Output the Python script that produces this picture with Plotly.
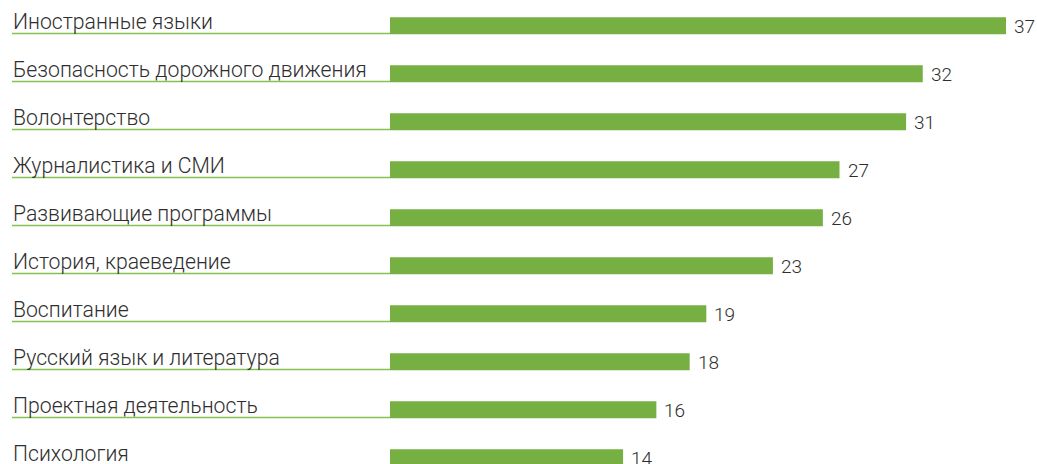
import plotly.graph_objects as go

categories = [
    "Иностранные языки",
    "Безопасность дорожного движения",
    "Волонтерство",
    "Журналистика и СМИ",
    "Развивающие программы",
    "История, краеведение",
    "Воспитание",
    "Русский язык и литература",
    "Проектная деятельность",
    "Психология",
]
values = [37, 32, 31, 27, 26, 23, 19, 18, 16, 14]

W, H = 1037, 464
PX_PER_UNIT = 616 / 37
BAR_LEFT = 390
ROW_TOP = 25.7
ROW_STEP = 48
BAR_H = 17
LABEL_LEFT = 12
LINE_OFFSET_PX = 7.8  # underline below bar centre

BAR_COLOR = "#76b043"
LINE_COLOR = "#86c150"
TEXT_COLOR = "#2e2e2e"
FONT = "Roboto"

x_min = -BAR_LEFT / PX_PER_UNIT
x_max = (W - BAR_LEFT) / PX_PER_UNIT
y_top = -ROW_TOP / ROW_STEP
y_bot = (H - ROW_TOP) / ROW_STEP
idx = list(range(len(categories)))

fig = go.Figure()
fig.add_trace(go.Bar(
    x=values, y=idx, orientation="h",
    marker=dict(color=BAR_COLOR, line=dict(width=0)),
    width=BAR_H / ROW_STEP,
    hoverinfo="skip",
))

label_x = (LABEL_LEFT - BAR_LEFT) / PX_PER_UNIT
line_dy = LINE_OFFSET_PX / ROW_STEP
for i, (c, v) in enumerate(zip(categories, values)):
    fig.add_shape(type="line", xref="x", yref="y",
                  x0=label_x, x1=0, y0=i + line_dy, y1=i + line_dy,
                  line=dict(color=LINE_COLOR, width=1.5), layer="below")
    fig.add_annotation(x=label_x, y=i, xref="x", yref="y", text=c,
                       showarrow=False, xanchor="left", yanchor="middle",
                       yshift=4.5, xshift=-1,
                       font=dict(family=FONT, size=21.2, weight=300, color=TEXT_COLOR))
    fig.add_annotation(x=v, y=i, xref="x", yref="y", text=str(v),
                       showarrow=False, xanchor="left", yanchor="middle",
                       xshift=6, yshift=-1,
                       font=dict(family=FONT, size=19, weight=300, color=TEXT_COLOR))

fig.update_layout(
    width=W, height=H,
    margin=dict(l=0, r=0, t=0, b=0),
    paper_bgcolor="white", plot_bgcolor="white",
    showlegend=False,
    hovermode=False,
    xaxis=dict(range=[x_min, x_max], visible=False, fixedrange=True),
    yaxis=dict(range=[y_bot, y_top], visible=False, fixedrange=True),
)

fig.write_html(
    "out.html",
    config={"displayModeBar": False, "staticPlot": True},
    post_script="document.body.style.margin='0';document.body.style.overflow='hidden';",
)
